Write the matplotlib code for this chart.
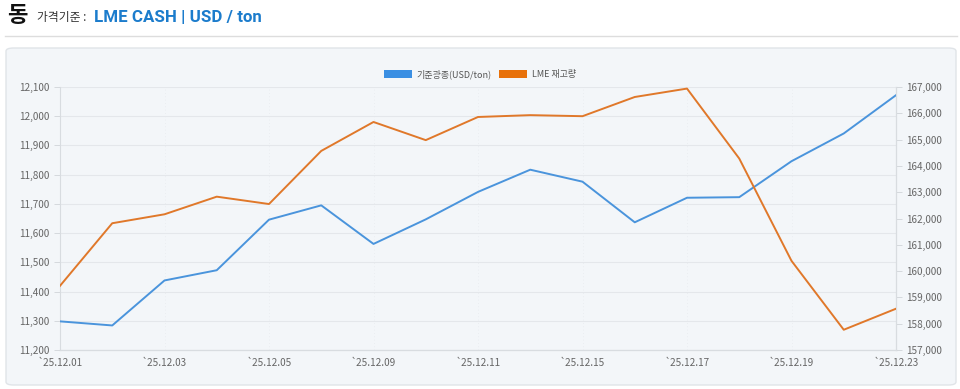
import matplotlib.pyplot as plt
from matplotlib.patches import FancyBboxPatch
from matplotlib.lines import Line2D
from matplotlib.patches import Patch
from matplotlib.ticker import FuncFormatter

plt.rcParams['font.family'] = ['Noto Sans CJK KR', 'DejaVu Sans']

dates = ["25.12.01", "25.12.02", "25.12.03", "25.12.04", "25.12.05", "25.12.08",
         "25.12.09", "25.12.10", "25.12.11", "25.12.12", "25.12.15", "25.12.16",
         "25.12.17", "25.12.18", "25.12.19", "25.12.22", "25.12.23"]
price = [11298, 11284, 11438, 11473, 11646, 11695, 11563, 11647, 11741, 11817,
         11776, 11637, 11721, 11723, 11846, 11941, 12072]
stock = [159440, 161820, 162160, 162830, 162550, 164570, 165670, 164980, 165860,
         165930, 165890, 166620, 166940, 164280, 160390, 157770, 158570]

blue = "#4a94dc"
orange = "#e0782a"
grey_txt = "#666666"
grid_c = "#e4e7eb"

fig = plt.figure(figsize=(9.6, 3.89), dpi=100)
fig.patch.set_facecolor("white")

# header
fig.text(7 / 960, 1 - 16 / 389, "동", fontsize=16, fontweight="bold", color="#111111",
         va="center", ha="left")
fig.text(37 / 960, 1 - 18 / 389, "가격기준 : ", fontsize=8.5, color="#333333",
         va="center", ha="left")
fig.text(94 / 960, 1 - 17 / 389, "LME CASH | USD / ton", fontsize=12.2, fontweight="bold",
         color="#1c7ccc", va="center", ha="left", family=["Roboto", "DejaVu Sans"])
fig.add_artist(Line2D([5 / 960, 957 / 960], [1 - 36 / 389, 1 - 36 / 389],
                      color="#dddddd", lw=1))

# card
card = FancyBboxPatch((6 / 960, 1 - 385 / 389), 950 / 960, 337 / 389,
                      boxstyle="round,pad=0,rounding_size=0.008",
                      transform=fig.transFigure, facecolor="#f3f6f9",
                      edgecolor="#e0e4e8", lw=1, zorder=-10)
fig.add_artist(card)

ax = fig.add_axes([60 / 960, 39 / 389, 836 / 960, 263 / 389])
ax.set_facecolor("#f3f6f9")
ax2 = ax.twinx()

x = list(range(len(dates)))
ax.plot(x, price, color=blue, lw=1.4, zorder=3)
ax2.plot(x, stock, color=orange, lw=1.4, zorder=3)

ax.set_xlim(0, len(dates) - 1)
ax.set_ylim(11200, 12100)
ax.set_yticks(range(11200, 12101, 100))
ax2.set_ylim(157000, 167000)
ax2.set_yticks(range(157000, 167001, 1000))

fmt = FuncFormatter(lambda v, p: f"{int(v):,}")
ax.yaxis.set_major_formatter(fmt)
ax2.yaxis.set_major_formatter(fmt)

ax.set_xticks(x[::2])
ax.set_xticklabels(["`" + d for d in dates[::2]])

ax.grid(axis="y", color=grid_c, lw=0.8)
ax.grid(axis="x", color="#e8ebef", lw=0.6, ls=(0, (1, 3)))
ax.set_axisbelow(True)

for a in (ax, ax2):
    for s in a.spines.values():
        s.set_color("#d8dce0")
        s.set_linewidth(0.8)
    a.spines["top"].set_visible(False)
    a.tick_params(labelsize=7.2, colors=grey_txt, length=4, width=0.6)
    a.tick_params(axis="both", color="#d0d4d8")
ax.tick_params(axis="x", length=0, pad=6)
ax2.spines["left"].set_visible(False)

handles = [Patch(facecolor="#3a8fe3", edgecolor="none", label="기준광종(USD/ton)"),
           Patch(facecolor="#e8710a", edgecolor="none", label="LME 재고량")]
fig.legend(handles=handles, loc="center", bbox_to_anchor=(0.5, 1 - 74 / 389),
           ncol=2, frameon=False, fontsize=6.5, handlelength=3.1, handleheight=0.9,
           columnspacing=0.8, handletextpad=0.5, labelcolor="#555555")

fig.savefig("out.png", dpi=100, facecolor="white")
